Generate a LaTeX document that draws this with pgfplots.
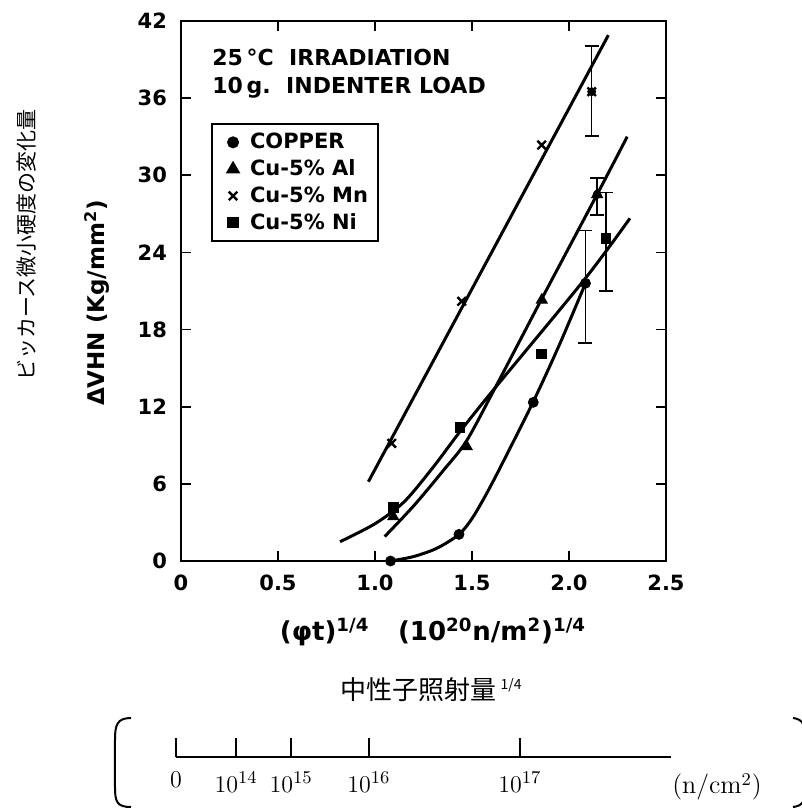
\documentclass[border=0pt]{standalone}
\usepackage{fontspec}
\usepackage{pgfplots}
\pgfplotsset{compat=1.18}
\newfontfamily\lettering{DejaVu Sans}
\newfontfamily\cjk{Noto Sans CJK JP}
\newcommand\lf[1]{\lettering\bfseries\fontsize{#1}{#1}\selectfont}
\begin{document}
\begin{tikzpicture}
\useasboundingbox (-90.5pt,-123.5pt) rectangle (310.5pt,280.5pt);
\begin{axis}[
  at={(0pt,0pt)}, anchor=origin,
  scale only axis, width=242.5pt, height=270pt,
  xmin=0,xmax=2.5,ymin=0,ymax=42,
  xtick={0,0.5,1,1.5,2,2.5}, xticklabels={0,0.5,1.0,1.5,2.0,2.5},
  ytick={0,6,...,42},
  tick align=inside, major tick length=5pt,
  axis line style={line width=1.3pt},
  every tick/.style={line width=0.9pt,black},
  tick label style={font=\lf{10.5}},
  /pgf/number format/assume math mode=true,
  xticklabel style={yshift=-3.5pt},
  yticklabel style={xshift=-3.5pt},
  legend style={at={(0.062,0.811)},anchor=north west, draw=black, line width=1pt,
     font=\lf{10.5}, row sep=0pt, inner xsep=3pt, inner ysep=2.5pt,
     nodes={inner ysep=2pt}},
  legend cell align=left,
  legend image code/.code={\path (0pt,0pt) (13pt,0pt); \draw[#1] plot coordinates {(7pt,0pt)};},
]
% data marks
\addplot[black, only marks, mark=*, mark size=2.5pt] coordinates {(1.08,0) (1.433,2.07) (1.816,12.34) (2.085,21.6)};
\addlegendentry{COPPER}
\addplot[black, only marks, mark=triangle*, mark size=3.2pt] coordinates {(1.094,3.45) (1.473,8.9) (1.86,20.3) (2.145,28.5)};
\addlegendentry{Cu-5\% Al}
\addplot[black, only marks, mark=x, mark size=3pt, mark options={line width=1.2pt}] coordinates {(1.086,9.15) (1.447,20.2) (1.859,32.35) (2.117,36.5)};
\addlegendentry{Cu-5\% Mn}
\addplot[black, only marks, mark=square*, mark size=2.4pt] coordinates {(1.094,4.15) (1.438,10.4) (1.859,16.1) (2.19,25.1)};
\addlegendentry{Cu-5\% Ni}
% fitted curves
\addplot[forget plot, black, line width=1.5pt, smooth, mark=none] coordinates {(1.08,0) (1.2,0.35) (1.32,1.0) (1.433,2.07) (1.5,3.3) (1.57,5.1) (1.65,7.4) (1.816,12.4) (1.95,16.8) (2.085,21.6)};
\addplot[forget plot, black, line width=1.5pt, smooth, mark=none] coordinates {(1.05,1.9) (1.2,4.3) (1.35,7.0) (1.47,9.3) (1.61,13.2) (1.86,20.4) (2.155,28.8) (2.30,33.0)};
\addplot[forget plot, black, line width=1.5pt, mark=none] coordinates {(0.966,6.17) (2.203,40.9)};
\addplot[forget plot, black, line width=1.5pt, smooth, mark=none] coordinates {(0.82,1.5) (1.0,2.9) (1.15,4.6) (1.3,7.3) (1.44,10.1) (1.61,13.3) (2.08,21.9) (2.314,26.65)};
% error bars
\addplot[forget plot, black, only marks, mark=none, error bars/.cd, y dir=both, y explicit,
  error bar style={line width=0.8pt, black}, error mark options={rotate=90, mark size=3.5pt, line width=0.8pt, black}]
  coordinates {(2.085,21.6) += (0,4.1) -= (0,4.65)
               (2.145,28.5) += (0,1.3) -= (0,1.6)
               (2.117,36.5) += (0,3.55) -= (0,3.45)
               (2.19,25.1) += (0,3.55) -= (0,4.1)};
\end{axis}
% secondary fluence scale
\begin{axis}[at={(-2.5pt,-98pt)}, anchor=origin, scale only axis, width=247.5pt, height=10pt,
  xmin=0, xmax=2.552, ymin=0, ymax=1,
  axis x line*=bottom, axis y line=none,
  x axis line style={-, line width=0.9pt},
  xtick={0,0.31,0.593,0.995,1.773},
  xticklabels={$0$,$10^{14}$,$10^{15}$,$10^{16}$,$10^{17}$},
  tick align=inside, major tick length=9.5pt,
  every tick/.style={line width=0.8pt, black},
  tick label style={font=\fontsize{13}{15}\selectfont},
  xticklabel style={yshift=-4pt}]
\end{axis}
\begin{scope}[x=0.5pt,y=-0.5pt,shift={(-90.5pt,280.5pt)}]
\node[anchor=west, inner sep=0pt] at (212,57) {\lf{11}25\,°C\hspace{0.7em}IRRADIATION};
\node[anchor=west, inner sep=0pt] at (212,88) {\lf{11}10\,g.\hspace{0.7em}INDENTER LOAD};
\node[rotate=90] at (97,303) {\lf{11.5}ΔVHN (Kg/mm\textsuperscript{2})};
\node[rotate=90] at (27,245) {\cjk\fontsize{10.5}{12}\selectfont ビッカース微小硬度の変化量};
\node at (433,632) {\lf{13}(φt)\textsuperscript{1/4}\hspace{1.1em}(10\textsuperscript{20}n/m\textsuperscript{2})\textsuperscript{1/4}};
\node at (431,690) {\cjk\fontsize{13}{15}\selectfont 中性子照射量\,\raisebox{0.7ex}{\fontsize{7}{8}\selectfont 1/4}};
\node at (717,787) {\fontsize{13}{15}\selectfont (n/cm$^2$)};
\draw[line width=1pt] (131,718) .. controls (117,718) and (115,725) .. (115,740) -- (115,787) .. controls (115,802) and (117,807) .. (131,807);
\draw[line width=1pt] (793,718) .. controls (803,719) and (806,726) .. (806,740) -- (806,787) .. controls (806,800) and (803,806) .. (793,807);
\end{scope}
\end{tikzpicture}
\end{document}
